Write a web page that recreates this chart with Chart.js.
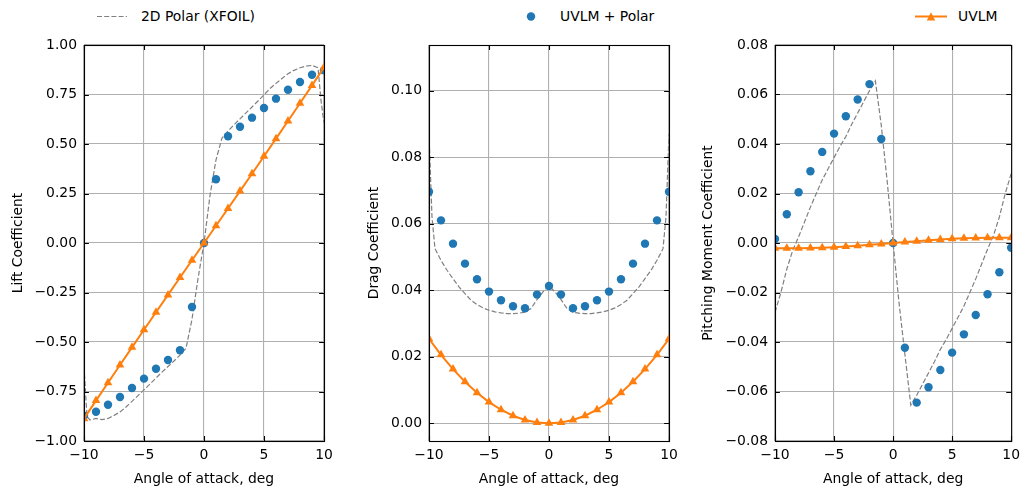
<!DOCTYPE html>
<html>
<head>
<meta charset="utf-8">
<script src="https://cdn.jsdelivr.net/npm/chart.js@4"></script>
<style>
  html, body { margin:0; padding:0; background:#fff; }
  body { width:1026px; height:489px; overflow:hidden; position:relative; font-family:'DejaVu Sans', sans-serif; }
  canvas { position:absolute; top:0; }
  .lg { position:absolute; top:7px; height:18px; line-height:18px; font-size:13.9px; color:#000; white-space:nowrap; }
</style>
</head>
<body>
<svg style="position:absolute;left:0;top:0" width="1026" height="34">
  <line x1="97" y1="16.5" x2="127" y2="16.5" stroke="#808080" stroke-width="1.2" stroke-dasharray="5 2.2"/>
  <circle cx="531" cy="16.5" r="4.2" fill="#1f77b4"/>
  <line x1="915" y1="16.5" x2="947" y2="16.5" stroke="#ff7f0e" stroke-width="2"/>
  <polygon points="931,12.3 935.2,20.5 926.8,20.5" fill="#ff7f0e"/>
</svg>
<span class="lg" style="left:141px">2D Polar (XFOIL)</span>
<span class="lg" style="left:560px">UVLM + Polar</span>
<span class="lg" style="left:958px">UVLM</span>

<canvas id="c1" width="345" height="489" style="left:0px"></canvas>
<canvas id="c2" width="345" height="489" style="left:345px"></canvas>
<canvas id="c3" width="336" height="489" style="left:690px"></canvas>

<script>
// ---------------- data ----------------
const alphaPolar = [-10,-9.75,-9.5,-9,-8.5,-8,-7.5,-7,-6.5,-6,-5.5,-5,-4.5,-4,-3.5,-3,-2.5,-2,-1.5,-1,-0.5,0,0.5,1,1.5,2,2.5,3,3.5,4,4.5,5,5.5,6,6.5,7,7.5,8,8.5,9,9.5,9.75,10];
const clPolar = [-0.625,-0.877,-0.894,-0.886,-0.892,-0.886,-0.871,-0.853,-0.828,-0.800,-0.771,-0.742,-0.712,-0.682,-0.652,-0.624,-0.596,-0.566,-0.532,-0.385,-0.180,0.0,0.240,0.420,0.530,0.565,0.597,0.627,0.657,0.687,0.717,0.748,0.780,0.806,0.831,0.855,0.872,0.885,0.893,0.897,0.885,0.720,0.605];
const cdPolar = [0.087,0.062,0.0525,0.049,0.046,0.0435,0.041,0.039,0.037,0.0357,0.0347,0.034,0.0335,0.0332,0.033,0.033,0.0331,0.0334,0.0345,0.0372,0.0395,0.0413,0.0395,0.0372,0.0345,0.0334,0.0331,0.033,0.033,0.0332,0.0335,0.034,0.0347,0.0357,0.037,0.039,0.041,0.0435,0.046,0.049,0.0525,0.062,0.087];
const cmPolar = [-0.028,-0.024,-0.020,-0.0105,-0.003,0.0025,0.0085,0.0145,0.020,0.0255,0.030,0.0345,0.039,0.043,0.048,0.0525,0.057,0.0615,0.0655,0.0475,0.025,0.0,-0.024,-0.045,-0.0655,-0.0615,-0.057,-0.0525,-0.048,-0.043,-0.039,-0.0345,-0.030,-0.0255,-0.020,-0.0145,-0.0085,-0.0025,0.003,0.0105,0.020,0.024,0.028];

const alphaDots = [-10,-9,-8,-7,-6,-5,-4,-3,-2,-1,0,1,2,3,4,5,6,7,8,9,10];
const clDots = [-0.872,-0.852,-0.817,-0.778,-0.732,-0.685,-0.635,-0.591,-0.542,-0.323,0.0,0.322,0.539,0.587,0.633,0.682,0.729,0.774,0.813,0.850,0.872];
const cdDots = [0.0696,0.0610,0.0540,0.0480,0.0433,0.0396,0.0370,0.0352,0.0346,0.0387,0.0413,0.0387,0.0346,0.0352,0.0370,0.0396,0.0433,0.0480,0.0540,0.0610,0.0696];
const cmDots = [0.0016,0.0116,0.0205,0.0290,0.0368,0.0442,0.0512,0.0580,0.0642,0.0420,0.0,-0.0423,-0.0645,-0.0583,-0.0513,-0.0443,-0.0369,-0.0291,-0.0207,-0.0118,-0.0019];

const clUvlm = [-0.887,-0.796,-0.706,-0.616,-0.527,-0.438,-0.350,-0.262,-0.174,-0.087,0,0.087,0.174,0.262,0.350,0.438,0.527,0.616,0.706,0.796,0.887];
const cdUvlm = [0.0254,0.0206,0.0163,0.0125,0.0092,0.0064,0.0041,0.0023,0.0010,0.00025,0,0.00025,0.0010,0.0023,0.0041,0.0064,0.0092,0.0125,0.0163,0.0206,0.0254];
const cmUvlm = [-0.0021,-0.0021,-0.0021,-0.0020,-0.0019,-0.0017,-0.0014,-0.0011,-0.0007,-0.0004,0,0.0004,0.0007,0.0011,0.0014,0.0017,0.0019,0.0020,0.0021,0.0021,0.0021];

const xTicks = [-10,-5,0,5,10];
const clTicks = [-1,-0.75,-0.5,-0.25,0,0.25,0.5,0.75,1];
const cdTicks = [0,0.02,0.04,0.06,0.08,0.10];
const cmTicks = [-0.08,-0.06,-0.04,-0.02,0,0.02,0.04,0.06,0.08];

const seriesLabels = ['2D Polar (XFOIL)', 'UVLM + Polar', 'UVLM'];
const xTitle = 'Angle of attack, deg';

// ---------------- chart ----------------
Chart.defaults.font.family = "'DejaVu Sans', sans-serif";
Chart.defaults.font.size = 13.9;
Chart.defaults.color = '#000';

const zip = (xs, ys) => xs.map((x, i) => ({x: x, y: ys[i]}));
function fmt(v, d) {
  let s = Math.abs(v) < 1e-12 ? (0).toFixed(d) : Number(v).toFixed(d);
  return s.replace('-', '\u2212');
}

const framePlugin = {
  id: 'frame',
  afterDatasetsDraw(chart) {
    const ctx = chart.ctx, a = chart.chartArea, x = chart.scales.x, y = chart.scales.y;
    const L = 4.9;
    ctx.save();
    ctx.strokeStyle = '#000';
    ctx.lineWidth = 1.1;
    ctx.beginPath();
    x.ticks.forEach(t => {
      const p = Math.round(x.getPixelForValue(t.value)) + 0.5;
      ctx.moveTo(p, a.bottom); ctx.lineTo(p, a.bottom - L);
      ctx.moveTo(p, a.top); ctx.lineTo(p, a.top + L);
    });
    y.ticks.forEach(t => {
      const p = Math.round(y.getPixelForValue(t.value)) + 0.5;
      ctx.moveTo(a.left, p); ctx.lineTo(a.left + L, p);
      ctx.moveTo(a.right, p); ctx.lineTo(a.right - L, p);
    });
    ctx.stroke();
    ctx.strokeRect(a.left + 0.5, a.top + 0.5, a.right - a.left, a.bottom - a.top);
    ctx.restore();
  }
};

function makeChart(id, cfg) {
  return new Chart(document.getElementById(id), {
    type: 'line',
    data: {
      datasets: [
        { label: seriesLabels[0], data: zip(alphaPolar, cfg.polar), borderColor: '#808080', borderWidth: 1.2,
          borderDash: [5, 2.2], pointRadius: 0, tension: 0, order: 3, clip: 0, fill: false },
        { label: seriesLabels[1], data: zip(alphaDots, cfg.dots), showLine: false, pointRadius: 4.2,
          pointBackgroundColor: '#1f77b4', pointBorderColor: '#1f77b4', pointBorderWidth: 0,
          borderColor: '#1f77b4', order: 2, clip: 0 },
        { label: seriesLabels[2], data: zip(alphaDots, cfg.uvlm), borderColor: '#ff7f0e', borderWidth: 2,
          pointStyle: 'triangle', pointRadius: 5, pointBackgroundColor: '#ff7f0e', pointBorderWidth: 0,
          tension: 0, order: 1, clip: 0, fill: false }
      ]
    },
    options: {
      responsive: false,
      animation: false,
      events: [],
      layout: { padding: { top: 45, right: cfg.padRight, left: 0, bottom: 0 } },
      plugins: { legend: { display: false }, tooltip: { enabled: false } },
      scales: {
        x: {
          type: 'linear', min: -10, max: 10,
          afterBuildTicks: s => { s.ticks = xTicks.map(v => ({value: v})); },
          afterFit: s => { s.height = 48; },
          grid: { color: '#b0b0b0', lineWidth: 1.1, drawTicks: false },
          border: { display: false },
          ticks: { padding: 6, maxRotation: 0, autoSkip: false, callback: v => fmt(v, 0) },
          title: { display: true, text: xTitle, padding: { top: 0, bottom: 1 } }
        },
        y: {
          type: 'linear', min: cfg.ymin, max: cfg.ymax,
          afterBuildTicks: s => { s.ticks = cfg.yTicks.map(v => ({value: v})); },
          afterFit: s => { s.width = cfg.yAxisWidth; },
          grid: { color: '#b0b0b0', lineWidth: 1.1, drawTicks: false },
          border: { display: false },
          ticks: { padding: 7, autoSkip: false, callback: v => fmt(v, 2) },
          title: { display: true, text: cfg.yTitle, padding: { top: cfg.titlePad, bottom: 0 } }
        }
      }
    },
    plugins: [framePlugin]
  });
}

makeChart('c1', { polar: clPolar, dots: clDots, uvlm: clUvlm, ymin: -1, ymax: 1, yTicks: clTicks,
  yTitle: 'Lift Coefficient', yAxisWidth: 84, padRight: 21, titlePad: 10 });
makeChart('c2', { polar: cdPolar, dots: cdDots, uvlm: cdUvlm, ymin: -0.0053, ymax: 0.1137, yTicks: cdTicks,
  yTitle: 'Drag Coefficient', yAxisWidth: 84, padRight: 21, titlePad: 21 });
makeChart('c3', { polar: cmPolar, dots: cmDots, uvlm: cmUvlm, ymin: -0.08, ymax: 0.08, yTicks: cmTicks,
  yTitle: 'Pitching Moment Coefficient', yAxisWidth: 85, padRight: 11, titlePad: 10 });
</script>
</body>
</html>
